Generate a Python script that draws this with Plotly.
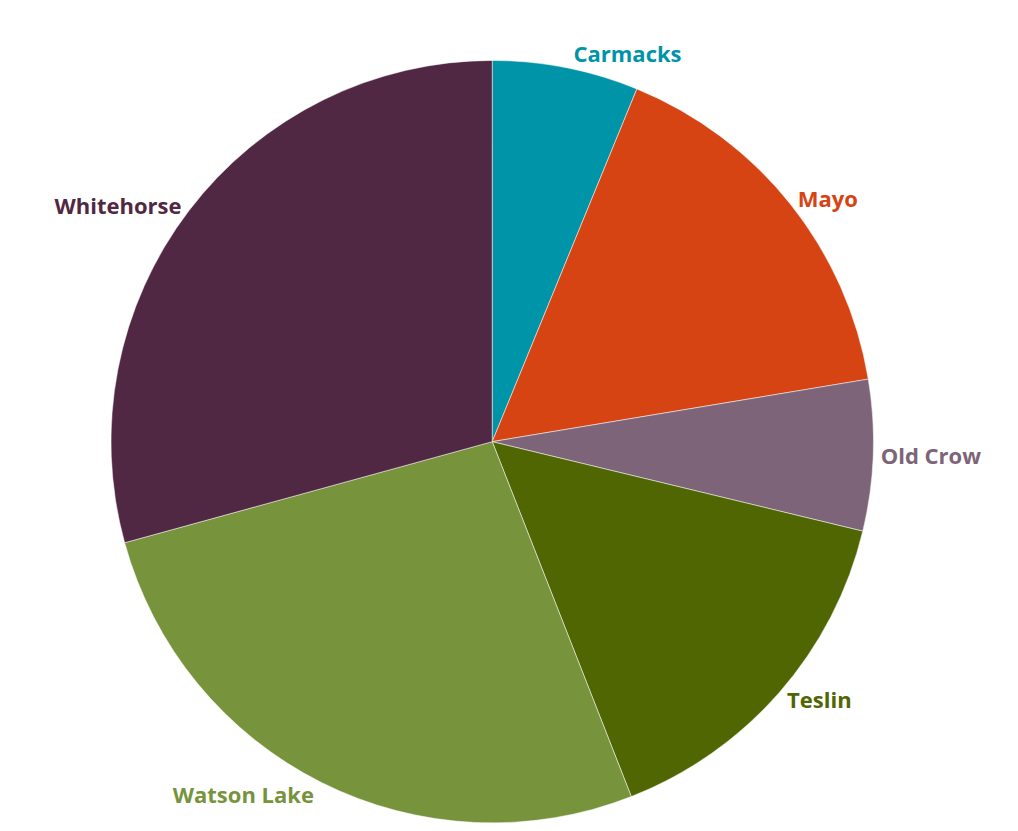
import plotly.graph_objects as go

communities = ["Carmacks", "Mayo", "Old Crow", "Teslin", "Watson Lake", "Whitehorse"]
shares = [6.2, 16.2, 6.4, 15.3, 26.7, 29.3]
colors = ["#0094A8", "#D64414", "#7D6478", "#506602", "#77933C", "#512843"]

fig = go.Figure(
    go.Pie(
        labels=communities,
        values=shares,
        sort=False,
        direction="clockwise",
        rotation=0,
        marker=dict(colors=colors, line=dict(color="white", width=0.5)),
        texttemplate="<b>%{label}</b>",
        textposition="outside",
        outsidetextfont=dict(family="Open Sans, sans-serif", size=22, color=colors),
        showlegend=False,
        domain=dict(x=[0, 0.98], y=[0, 0.95]),
    )
)

fig.update_layout(
    width=1018,
    height=831,
    margin=dict(l=0, r=0, t=0, b=0),
    paper_bgcolor="white",
    plot_bgcolor="white",
    font=dict(family="Open Sans, sans-serif", size=22),
)

fig.write_html("out.html")
